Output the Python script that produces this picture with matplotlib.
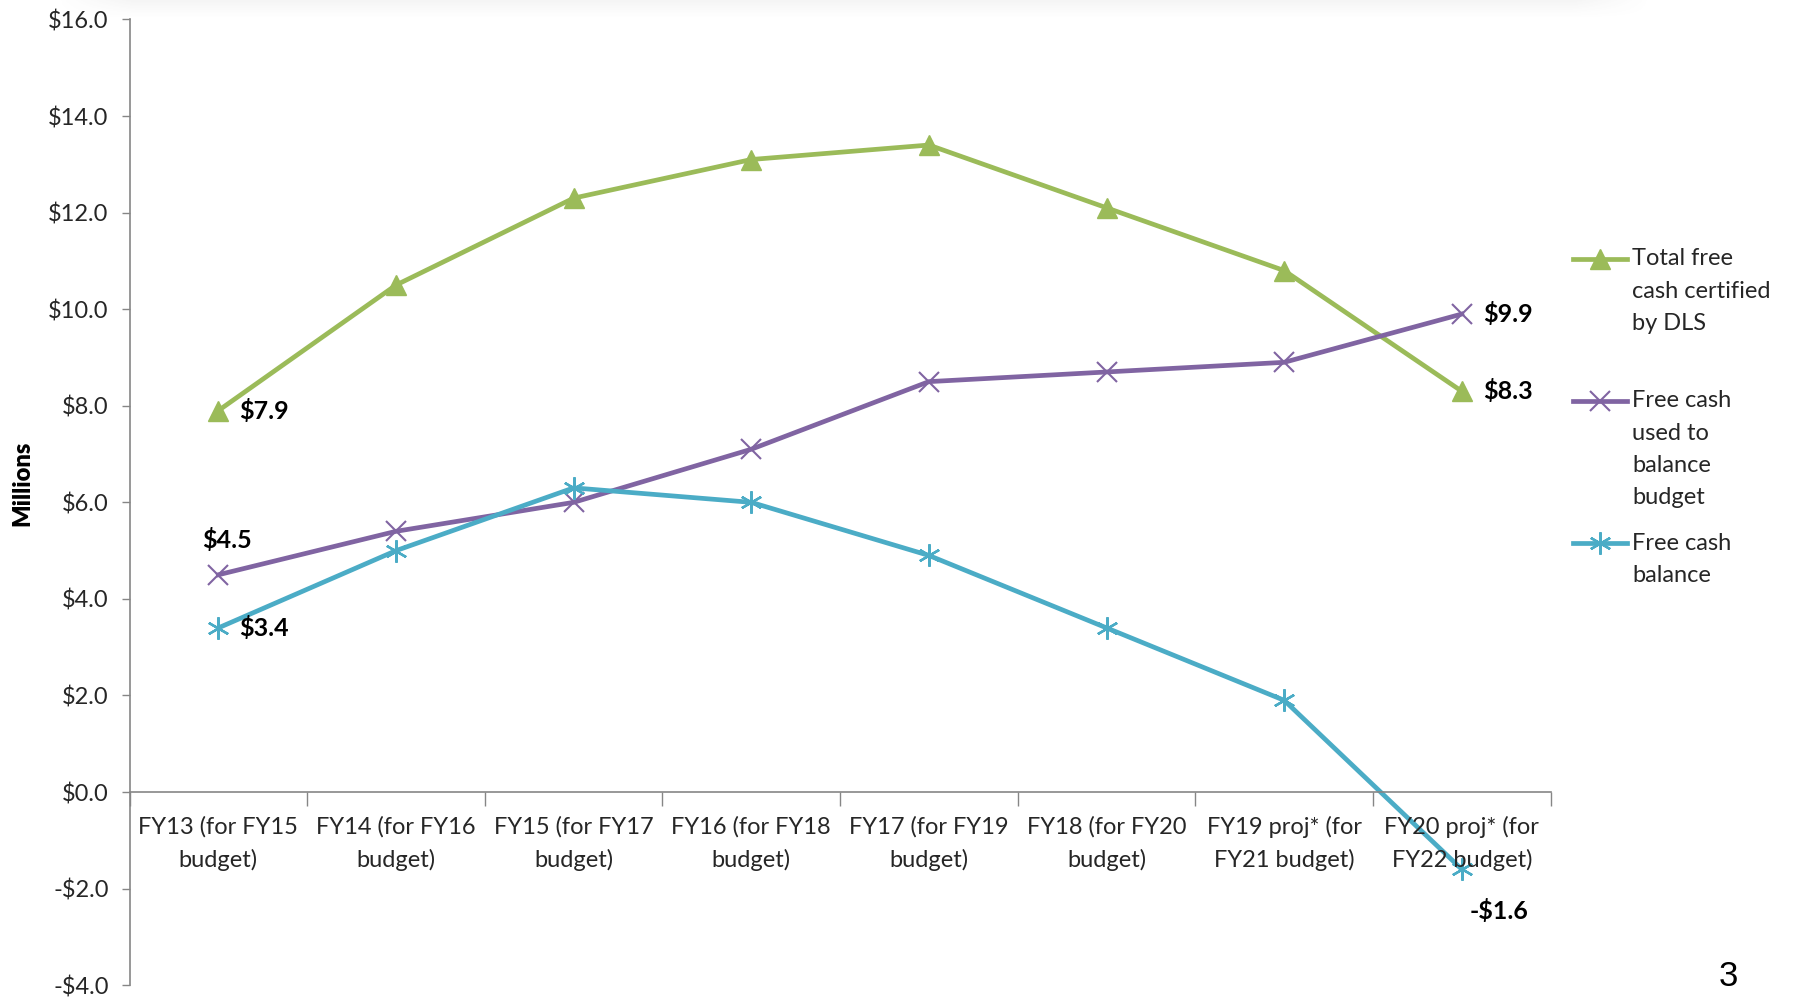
import numpy as np
import matplotlib.pyplot as plt
from matplotlib.lines import Line2D
from matplotlib.ticker import FuncFormatter, FixedLocator

plt.rcParams['font.family'] = ['Lato', 'DejaVu Sans']

categories = [
    "FY13 (for FY15\nbudget)", "FY14 (for FY16\nbudget)", "FY15 (for FY17\nbudget)",
    "FY16 (for FY18\nbudget)", "FY17 (for FY19\nbudget)", "FY18 (for FY20\nbudget)",
    "FY19 proj* (for\nFY21 budget)", "FY20 proj* (for\nFY22 budget)",
]
total_certified = [7.9, 10.5, 12.3, 13.1, 13.4, 12.1, 10.8, 8.3]
used_to_balance = [4.5, 5.4, 6.0, 7.1, 8.5, 8.7, 8.9, 9.9]
cash_balance = [3.4, 5.0, 6.3, 6.0, 4.9, 3.4, 1.9, -1.6]

legend_labels = ["Total free\ncash certified\nby DLS",
                 "Free cash\nused to\nbalance\nbudget",
                 "Free cash\nbalance"]

GREEN = '#9BBB59'
PURPLE = '#8064A2'
TEAL = '#4BACC6'
AXIS = '#868686'
TEXT = '#262626'
FS = 17
LW = 3.4


def money(v):
    return f"-${abs(v):.1f}" if v < 0 else f"${v:.1f}"


fig = plt.figure(figsize=(17.97, 9.99), dpi=100)
ax = fig.add_axes([0.0721, 0.0138, 0.7908, 0.9667])

x = np.arange(len(categories))
styles = [
    (total_certified, GREEN, dict(marker='^', markersize=14)),
    (used_to_balance, PURPLE, dict(marker='x', markersize=14, markeredgewidth=1.5)),
    (cash_balance, TEAL, dict(marker=(6, 2, 0), markersize=16, markeredgewidth=1.7)),
]
for vals, color, mk in styles:
    ax.plot(x, vals, color=color, linewidth=LW, markerfacecolor=color,
            markeredgecolor=color, solid_joinstyle='round', clip_on=False, **mk)

ax.set_xlim(-0.5, len(categories) - 0.5)
ax.set_ylim(-4, 16)
ax.set_yticks(np.arange(-4, 17, 2))
ax.yaxis.set_major_formatter(FuncFormatter(lambda v, _: money(v)))

# tick marks sit on the category boundaries; names are centred below each slot
ax.xaxis.set_major_locator(FixedLocator(np.arange(-0.5, len(categories), 1.0)))
ax.xaxis.set_major_formatter(FuncFormatter(lambda v, _: ''))
ax.tick_params(axis='x', which='major', length=10, width=1, color=AXIS, direction='out')
for xi, name in zip(x, categories):
    ax.annotate(name, (xi, 0), xytext=(0, -17), textcoords='offset points',
                ha='center', va='top', fontsize=FS, color=TEXT, linespacing=1.63,
                annotation_clip=False)
ax.tick_params(axis='y', length=6, width=1, color=AXIS, labelsize=FS,
               labelcolor=TEXT, pad=9)

for side in ('top', 'right'):
    ax.spines[side].set_visible(False)
ax.spines['bottom'].set_position(('data', 0))
for side in ('left', 'bottom'):
    ax.spines[side].set_color(AXIS)
    ax.spines[side].set_linewidth(1.2)

ax.set_ylabel("Millions", fontsize=17, fontweight='heavy', color='black')
ax.yaxis.set_label_coords(-0.068, 0.52)

# value callouts at the ends of each series
lbl = dict(fontsize=18, fontweight='bold', color='black', textcoords='offset points')
ax.annotate(money(total_certified[0]), (0, total_certified[0]), xytext=(15, 0),
            ha='left', va='center', **lbl)
ax.annotate(money(used_to_balance[0]), (0, used_to_balance[0]), xytext=(6, 25),
            ha='center', va='center', **lbl)
ax.annotate(money(cash_balance[0]), (0, cash_balance[0]), xytext=(15, 0),
            ha='left', va='center', **lbl)
ax.annotate(money(used_to_balance[-1]), (7, used_to_balance[-1]), xytext=(15, 0),
            ha='left', va='center', **lbl)
ax.annotate(money(total_certified[-1]), (7, total_certified[-1]), xytext=(15, 0),
            ha='left', va='center', **lbl)
ax.annotate(money(cash_balance[-1]), (7, cash_balance[-1]), xytext=(27, -30),
            ha='center', va='center', **lbl)

# legend, each key sitting on the first line of its wrapped label
leg_x0, leg_x1, txt_x = 0.8756, 0.9056, 0.9082
leg_rows = [0.7408, 0.5986, 0.4564]
line_h = 0.0321
for (vals, color, mk), label, y0 in zip(styles, legend_labels, leg_rows):
    fig.add_artist(Line2D([leg_x0, leg_x1], [y0, y0], color=color, linewidth=LW,
                          transform=fig.transFigure))
    fig.add_artist(Line2D([(leg_x0 + leg_x1) / 2], [y0], color=color,
                          markerfacecolor=color, markeredgecolor=color,
                          transform=fig.transFigure, **mk))
    for i, line in enumerate(label.split('\n')):
        fig.text(txt_x, y0 - i * line_h, line, fontsize=FS, color=TEXT,
                 ha='left', va='center')

# slide page number
fig.text(0.9617, 0.006, "3", fontsize=25, color='black', ha='center', va='bottom',
         family=['Liberation Sans', 'DejaVu Sans'])

# soft drop shadow along the top edge of the slide
rows, cols = 40, 400
vert = np.linspace(0.12, 0.0, rows).reshape(-1, 1) ** 1.3
xs = np.linspace(0, 1, cols)
horiz = np.clip(np.minimum(xs / 0.05, (1 - xs) / 0.05), 0, 1).reshape(1, -1)
shade = np.zeros((rows, cols, 4))
shade[..., :3] = 0.35
shade[..., 3] = vert * horiz
sax = fig.add_axes([0.03, 0.98, 0.89, 0.02])
sax.imshow(shade, aspect='auto', extent=(0, 1, 0, 1), origin='upper')
sax.axis('off')

fig.savefig('out.png', dpi=100)
